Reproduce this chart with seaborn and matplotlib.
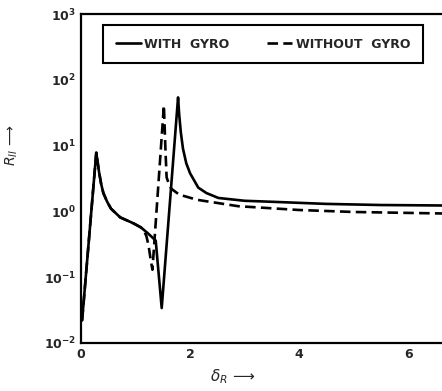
import numpy as np
import pandas as pd
import matplotlib
matplotlib.use("Agg")
import matplotlib.pyplot as plt
from matplotlib.ticker import LogLocator, FixedLocator
import seaborn as sns

# --- data ---
delta_gyro = [0.02, 0.28, 0.30, 0.33, 0.37, 0.41, 0.48, 0.55, 0.72, 0.96, 1.10,
              1.22, 1.37, 1.48, 1.78, 1.80, 1.83, 1.87, 1.93, 2.00, 2.15, 2.30,
              2.52, 3.0, 3.5, 4.5, 5.5, 6.62]
R_gyro = [0.022, 7.8, 6.0, 4.0, 2.6, 1.9, 1.4, 1.1, 0.81, 0.66, 0.57,
          0.47, 0.36, 0.034, 54, 30, 16, 9.0, 5.4, 3.8, 2.3, 1.9,
          1.6, 1.45, 1.4, 1.3, 1.25, 1.23]

delta_nogyro = [0.02, 0.28, 0.30, 0.33, 0.37, 0.41, 0.48, 0.55, 0.72, 0.96, 1.10,
                1.15, 1.20, 1.24, 1.28, 1.31, 1.52, 1.55, 1.57, 1.62, 1.66, 1.80,
                2.13, 2.88, 4.0, 5.0, 6.62]
R_nogyro = [0.022, 7.8, 6.0, 4.0, 2.6, 1.9, 1.4, 1.1, 0.81, 0.66, 0.57,
            0.52, 0.42, 0.30, 0.18, 0.13, 41, 8.0, 3.3, 2.5, 2.2, 1.8,
            1.5, 1.2, 1.05, 0.98, 0.93]

labels = ["WITH  GYRO", "WITHOUT  GYRO"]

df = pd.concat([
    pd.DataFrame({"delta": delta_gyro, "R": R_gyro, "case": labels[0]}),
    pd.DataFrame({"delta": delta_nogyro, "R": R_nogyro, "case": labels[1]}),
])

sns.set_style("white")
plt.rcParams["font.family"] = ["DejaVu Sans"]

fig = plt.figure(figsize=(4.42, 3.91), dpi=100)
ax = fig.add_axes([81 / 442, 1 - 343 / 391, 361 / 442, 329 / 391])

sns.lineplot(data=df, x="delta", y="R", hue="case", style="case",
             palette=["black", "black"], dashes=[(None, None), (4, 2)],
             linewidth=1.9, ax=ax, estimator=None, sort=False)

ax.set_yscale("log")
ax.set_ylim(1e-2, 1e3)
ax.set_xlim(0, 6.62)
ax.xaxis.set_major_locator(FixedLocator([0, 2, 4, 6]))
ax.yaxis.set_major_locator(LogLocator(base=10, numticks=10))
ax.yaxis.set_minor_locator(LogLocator(base=10, subs=np.arange(2, 10), numticks=10))
ax.set_xticklabels(["0", "2", "4", "6"], fontweight="bold", fontsize=9)
ax.tick_params(axis="both", which="major", direction="in", length=6, width=1.3,
               labelsize=9, right=False, top=False)
ax.tick_params(axis="y", which="minor", direction="in", length=4, width=1.0, right=False)
for lab in ax.get_yticklabels():
    lab.set_fontweight("bold")

for side in ["left", "bottom", "top"]:
    ax.spines[side].set_linewidth(1.6)
    ax.spines[side].set_color("black")
ax.spines["right"].set_visible(False)

ax.set_xlabel(r"$\delta_R$ ⟶", fontsize=11)
ax.set_ylabel(r"$R_{II}$ ⟶", fontsize=10)
ax.xaxis.set_label_coords(0.42, -0.075)
ax.yaxis.set_label_coords(-0.17, 0.6)

leg = ax.legend(loc="lower left", bbox_to_anchor=(0.061, 0.851, 0.886, 0.109),
                mode="expand", ncol=2, frameon=True, fancybox=False,
                handlelength=2.0, handletextpad=0.3, borderaxespad=0,
                borderpad=1.0, prop={"weight": "bold", "size": 9})
leg.get_frame().set_edgecolor("black")
leg.get_frame().set_linewidth(1.5)
leg.get_frame().set_alpha(1)

fig.savefig("out.png", dpi=100)
